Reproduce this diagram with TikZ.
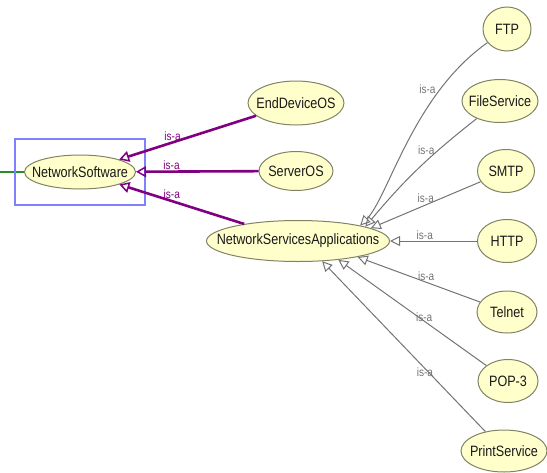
\documentclass[tikz,border=0pt]{standalone}
\usepackage{fontspec}
\setmainfont{Liberation Sans}[FakeStretch=0.84]
\usetikzlibrary{shapes.geometric, arrows.meta}

\definecolor{clsfill}{RGB}{255,255,204}
\definecolor{clsdraw}{RGB}{130,130,100}
\definecolor{isapurple}{RGB}{128,0,128}
\definecolor{selblue}{RGB}{128,128,255}
\definecolor{subgray}{RGB}{115,115,115}
\definecolor{linkgreen}{RGB}{40,140,40}

\begin{document}
\begin{tikzpicture}[x=1pt, y=1pt,
  cls/.style={ellipse, draw=clsdraw, fill=clsfill, line width=1pt, inner sep=0pt, text=black!90,
    font=\fontsize{15}{17}\selectfont,
    execute at begin node={\hbox to 0pt\bgroup\hss}, execute at end node={\hss\egroup}},
  isa/.style={font=\fontsize{12}{14}\selectfont, inner sep=1pt},
  parent/.style={-{Triangle[open, length=10pt, width=11pt, line width=1.5pt]}, isapurple, line width=2.6pt},
  sub/.style={-{Triangle[open, length=10pt, width=10pt, line width=1pt]}, subgray, line width=1pt},
  selbox/.style={draw=selblue, line width=2.6pt, inner sep=0pt}
]
\useasboundingbox (0,0) rectangle (547,-472);

% left part
\node[cls, minimum width=111pt, minimum height=34pt] (ns) at (80,-172) {NetworkSoftware};
\node[cls, minimum width=96pt, minimum height=44pt] (ed) at (296,-103) {EndDeviceOS};
\node[cls, minimum width=74pt, minimum height=39pt] (srv) at (296,-171) {ServerOS};
\node[cls, minimum width=183pt, minimum height=41pt] (nsa) at (298,-241) {NetworkServicesApplications};

% right column
\node[cls, minimum width=48pt, minimum height=44pt] (ftp) at (507,-29) {FTP};
\node[cls, minimum width=76pt, minimum height=43pt] (fs) at (500,-101) {FileService};
\node[cls, minimum width=57pt, minimum height=43pt] (smtp) at (506,-171) {SMTP};
\node[cls, minimum width=59pt, minimum height=43pt] (http) at (507,-241) {HTTP};
\node[cls, minimum width=60pt, minimum height=42pt] (telnet) at (507,-312) {Telnet};
\node[cls, minimum width=60pt, minimum height=43pt] (pop) at (508,-381) {POP-3};
\node[cls, minimum width=86pt, minimum height=42pt] (print) at (504,-451) {PrintService};

% link coming in from the left, then the selection frame
\coordinate (offleft) at (0,-172);
\draw[linkgreen, line width=2pt] (offleft) -- (ns);
\node[selbox, minimum width=130pt, minimum height=66pt] (sel) at (ns) {};

% is-a edges to NetworkSoftware
\draw[parent] (ed) -- node[isa, pos=.61, above] (l1) {is-a} (ns);
\draw[parent] (srv) -- node[isa, pos=.71, above] (l2) {is-a} (ns);
\draw[parent] (nsa) -- node[isa, pos=.58, above] (l3) {is-a} (ns);

% is-a edges to NetworkServicesApplications
\draw[sub] (ftp) .. controls +(215:115) and +(45:40) .. node[isa, pos=.25, left=3pt] (l4) {is-a} (nsa.14);
\draw[sub] (fs) to[bend right=6] node[isa, pos=.31, left=2pt] (l5) {is-a} (nsa.12);
\draw[sub] (smtp) -- node[isa, pos=.5, above=1pt] (l6) {is-a} (nsa.10);
\draw[sub] (http) -- node[isa, pos=.6, above] (l7) {is-a} (nsa);
\draw[sub] (telnet) -- node[isa, pos=.44, above] (l8) {is-a} (nsa.-15);
\draw[sub] (pop) -- node[isa, pos=.42, yshift=4pt] (l9) {is-a} (nsa.-25);
\draw[sub] (print) -- node[isa, pos=.37, yshift=-4pt] (l10) {is-a} (nsa.-40);

\end{tikzpicture}
\end{document}
